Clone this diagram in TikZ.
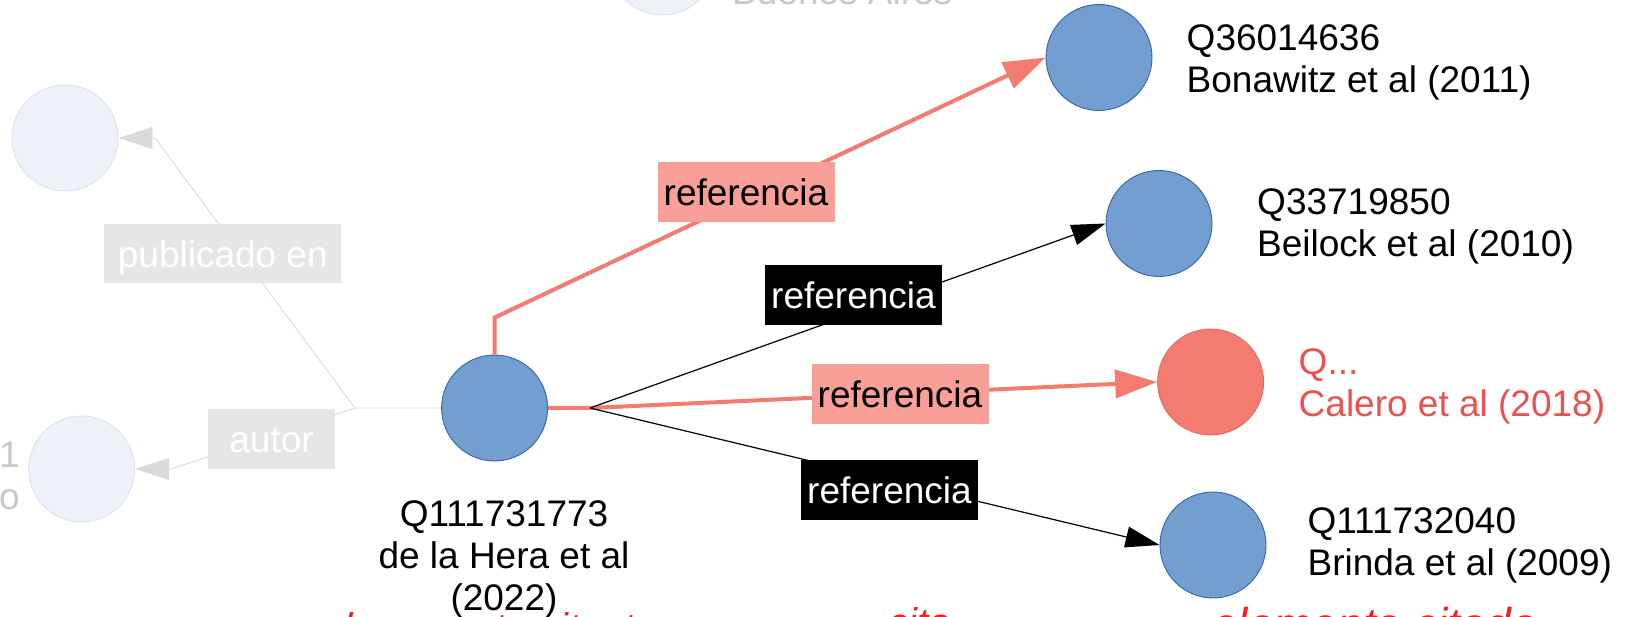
\documentclass[tikz,border=0pt]{standalone}
\usepackage{fontspec}
\setmainfont{Liberation Sans}
\usepackage{color}
\usepackage{tikz}
\usetikzlibrary{arrows.meta}
\definecolor{hexcolor0x729fcf}{rgb}{0.447,0.624,0.812}
\definecolor{hexcolor0x3465a4}{rgb}{0.204,0.396,0.643}
\definecolor{hexcolor0xf37b70}{rgb}{0.953,0.482,0.439}
\definecolor{hexcolor0xe8685e}{rgb}{0.910,0.408,0.369}
\definecolor{hexcolor0xf89f98}{rgb}{0.973,0.624,0.596}
\definecolor{hexcolor0xee5050}{rgb}{0.933,0.314,0.314}
\definecolor{hexcolor0xf01e28}{rgb}{0.941,0.118,0.157}
\definecolor{hexcolor0xeef2f8}{rgb}{0.933,0.949,0.973}
\definecolor{hexcolor0xdce3ee}{rgb}{0.863,0.890,0.933}
\definecolor{hexcolor0xe6e6e6}{rgb}{0.902,0.902,0.902}
\definecolor{hexcolor0xdadada}{rgb}{0.855,0.855,0.855}
\definecolor{hexcolor0xc8c8c8}{rgb}{0.784,0.784,0.784}
\definecolor{myblack}{rgb}{0.000,0.000,0.000}
\definecolor{mywhite}{rgb}{1.000,1.000,1.000}
\tikzstyle{item}=[circle,fill=hexcolor0x729fcf,draw=hexcolor0x3465a4,line width=0.9pt,minimum size=106pt,inner sep=0pt]
\tikzstyle{itemnew}=[circle,fill=hexcolor0xf37b70,draw=hexcolor0xe8685e,line width=0.9pt,minimum size=106pt,inner sep=0pt]
\tikzstyle{faded}=[circle,fill=hexcolor0xeef2f8,draw=hexcolor0xdce3ee,line width=0.9pt,minimum size=106pt,inner sep=0pt]
\tikzstyle{caption}=[align=left,anchor=north west,inner sep=0pt,font=\fontsize{37}{42}\selectfont]
\tikzstyle{refblack}=[fill=myblack,text=mywhite,inner sep=0pt,minimum width=177pt,minimum height=60pt,text height=27pt,text depth=0pt,font=\fontsize{37}{42}\selectfont]
\tikzstyle{refred}=[refblack,fill=hexcolor0xf89f98,text=myblack]
\tikzstyle{greylabel}=[refblack,fill=hexcolor0xe6e6e6,text=mywhite,minimum height=59pt]
\tikzstyle{note}=[anchor=base west,inner sep=0pt,text=hexcolor0xf01e28,font=\fontsize{40}{44}\selectfont\itshape]
\tikzstyle{redline}=[draw=hexcolor0xf37b70,line width=4pt,-{Triangle[length=42pt,width=28pt]}]
\tikzstyle{blackline}=[draw=myblack,line width=1.2pt,-{Triangle[length=34pt,width=21pt]}]
\tikzstyle{greyline}=[draw=hexcolor0xdadada,line width=0.9pt,-{Triangle[length=34pt,width=22pt]}]

\begin{document}
\begin{tikzpicture}[x=1pt,y=-1pt]
	\useasboundingbox (0,0) rectangle (1636,617);
	%circles
		\node [style=item] (0) at (494.6, 408) {};
		\node [style=item] (1) at (1099, 57.5) {};
		\node [style=item] (2) at (1159, 223.5) {};
		\node [style=itemnew] (3) at (1210.6, 382) {};
		\node [style=item] (4) at (1213, 545) {};
		\node [style=faded] (5) at (65, 138) {};
		\node [style=faded] (6) at (81.6, 469) {};
		\node [style=faded] (7) at (662.5, -38) {};
	%edges
		\coordinate (b) at (590, 408);
		\coordinate (g) at (355, 408);
		\coordinate (g1) at (155, 138);
		\coordinate (g2) at (171, 469);
		\draw [style=greyline] (0.west) -- (g) -- (g1) -- (5.east);
		\draw [style=greyline] (g) -- (g2) -- (6.east);
		\draw [style=redline] (0.north) -- ++(0,-37) -- (1.west);
		\draw [style=redline] (0.east) -- (b) -- (3.west);
		\draw [style=blackline] (b) -- (2.west);
		\draw [style=blackline] (b) -- (4.west);
	%edge labels
		\node [style=refred] (8) at (746, 192.5) {referencia};
		\node [style=refblack] (9) at (853.5, 295) {referencia};
		\node [style=refred] (10) at (900, 394) {referencia};
		\node [style=refblack] (11) at (889.5, 490) {referencia};
		\node [style=greylabel,minimum width=237pt] (12) at (222.8, 254) {publicado en};
		\node [style=greylabel,minimum width=127pt] (13) at (271.5, 439) {autor};
	%captions
		\node [style=caption,align=center,anchor=north] (14) at (504, 500) {Q111731773\\de la Hera et al\\(2022)};
		\node [style=caption] (15) at (1186.5, 24) {Q36014636\\Bonawitz et al (2011)};
		\node [style=caption] (16) at (1257, 188) {Q33719850\\Beilock et al (2010)};
		\node [style=caption,text=hexcolor0xee5050] (17) at (1298.5, 348) {Q...\\Calero et al (2018)};
		\node [style=caption] (18) at (1307.4, 507) {Q111732040\\Brinda et al (2009)};
		\node [style=caption,text=hexcolor0xc8c8c8,anchor=base west] (19) at (732, 5) {Buenos Aires};
		\node [style=caption,text=hexcolor0xc8c8c8,align=right,anchor=north east] (20) at (20, 442) {1\\o};
	%notes
		\node [style=note] (21) at (330, 641) {documento citante};
		\node [style=note] (22) at (888, 636) {cita};
		\node [style=note,font=\fontsize{46}{50}\selectfont\itshape] (23) at (1212, 640) {elemento citado};
\end{tikzpicture}
\end{document}
